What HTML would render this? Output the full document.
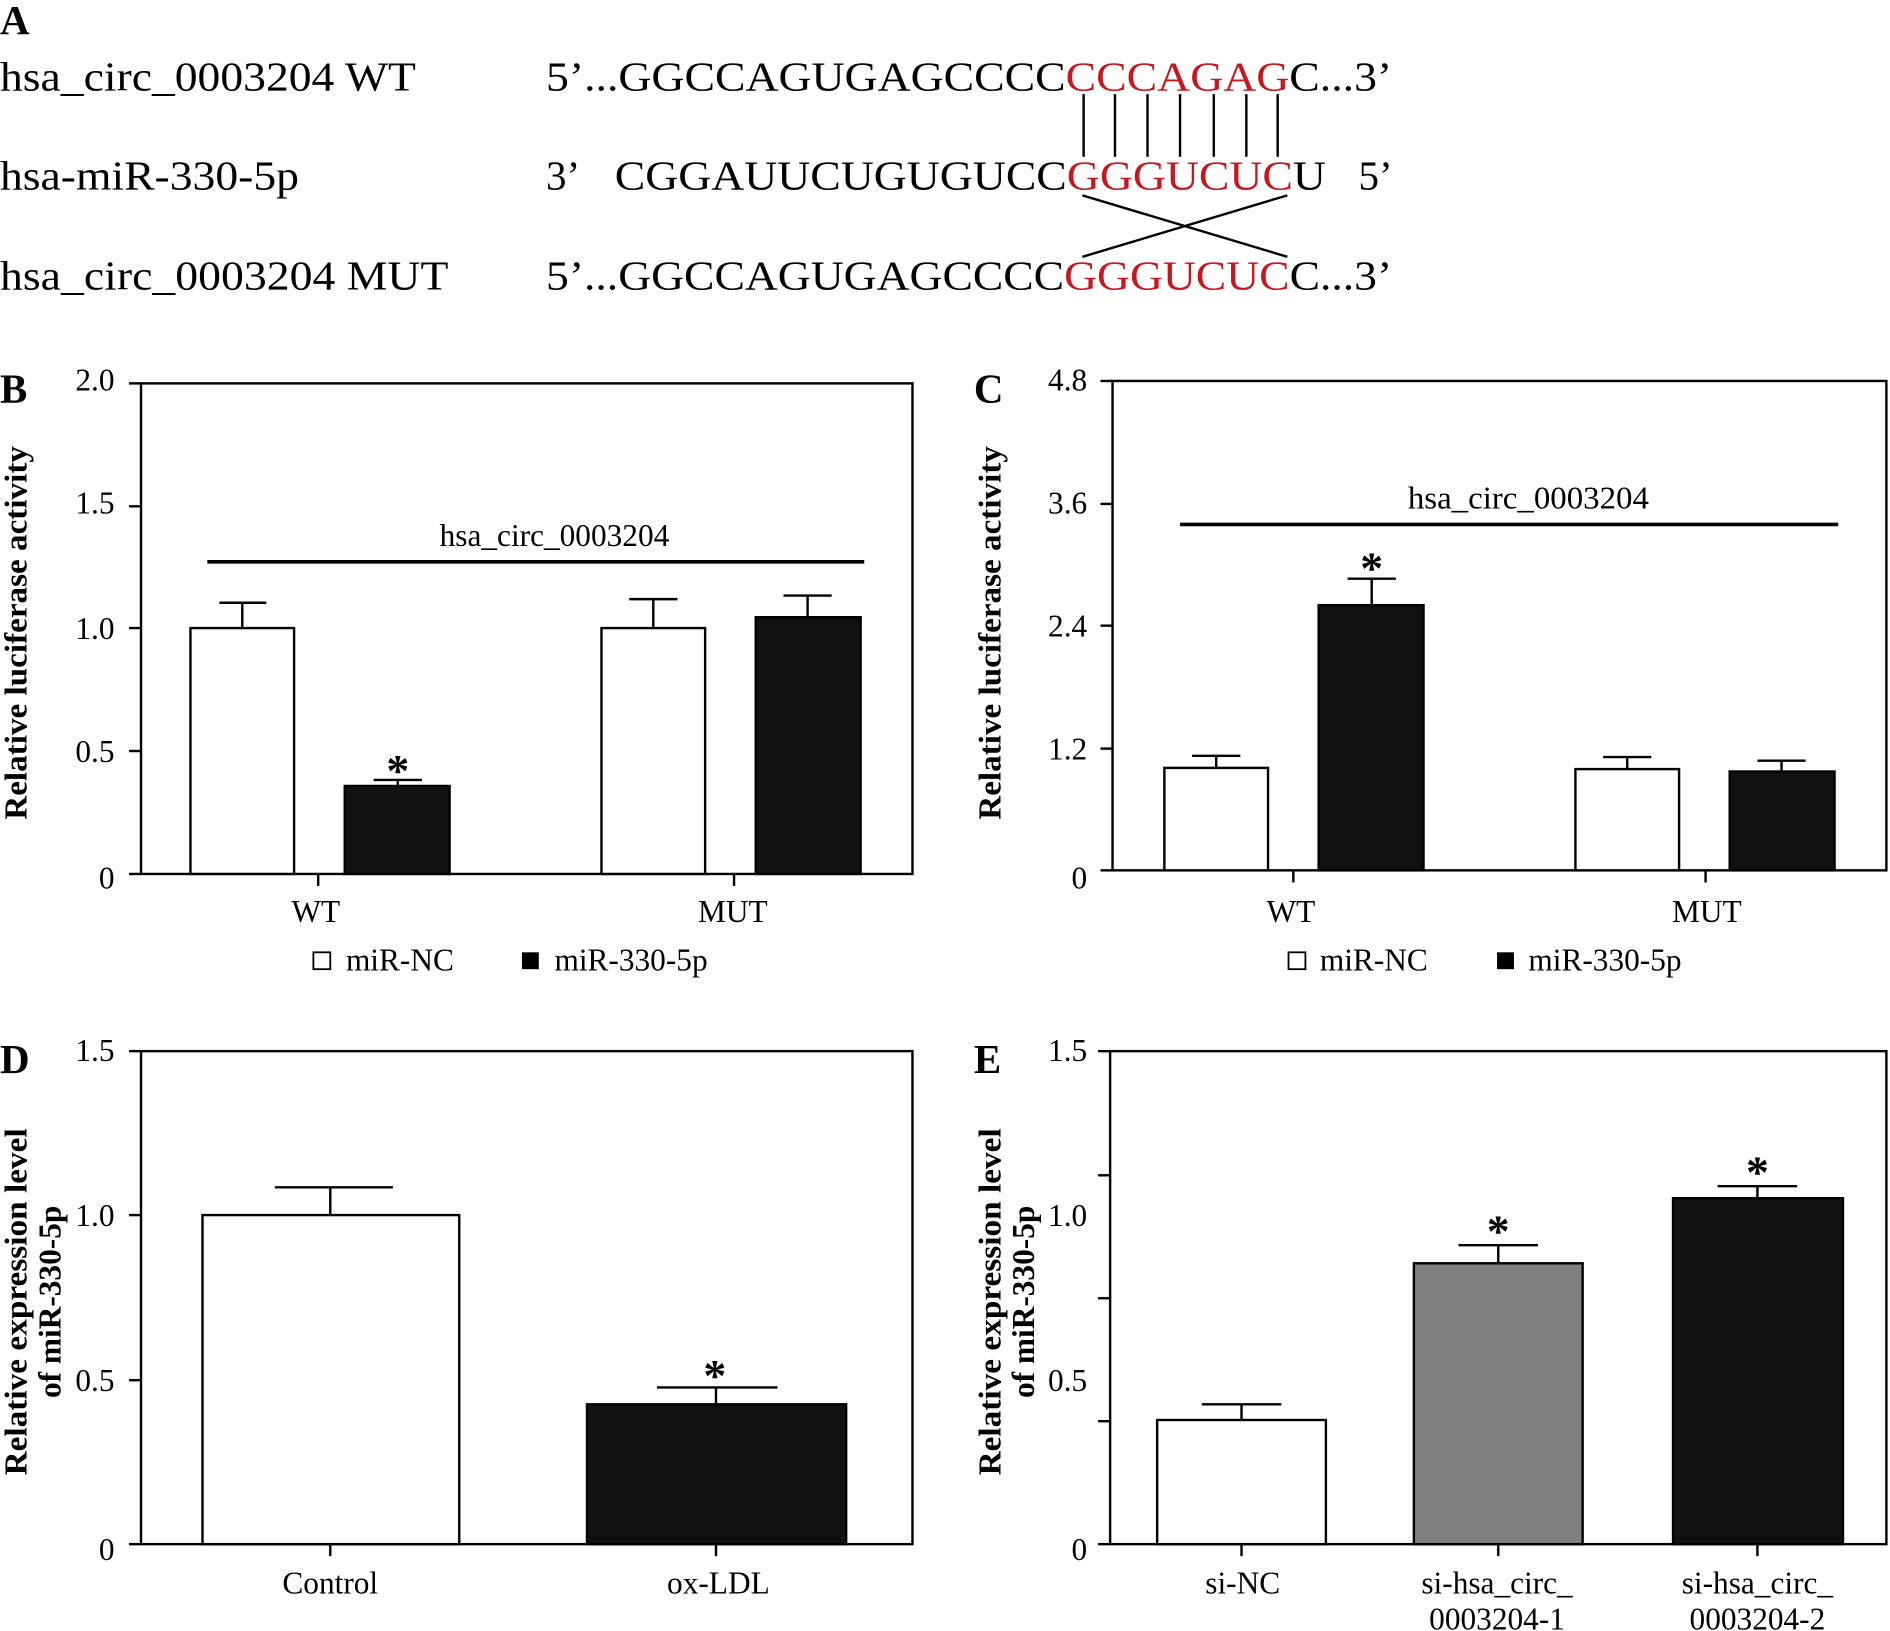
<!DOCTYPE html>
<html><head><style>html,body{margin:0;padding:0;background:#fff}svg{display:block}text{font-family:"Liberation Serif",serif}</style></head><body>
<svg width="1890" height="1631" viewBox="0 0 1568 1353" xmlns="http://www.w3.org/2000/svg">
<g font-size="34">
<text x="0" y="28" font-weight="bold" font-size="34">A</text>
<text x="0" y="75" textLength="345" lengthAdjust="spacingAndGlyphs">hsa_circ_0003204 WT</text>
<text x="0" y="157" textLength="248" lengthAdjust="spacingAndGlyphs">hsa-miR-330-5p</text>
<text x="0" y="240" textLength="372" lengthAdjust="spacingAndGlyphs">hsa_circ_0003204 MUT</text>
<text x="453" y="75" textLength="702" lengthAdjust="spacingAndGlyphs">5’...GGCCAGUGAGCCCC<tspan fill="#c8161d">CCCAGAG</tspan>C...3’</text>
<text x="453" y="157">3’</text>
<text x="510" y="157" textLength="590" lengthAdjust="spacingAndGlyphs">CGGAUUCUGUGUCC<tspan fill="#c8161d">GGGUCUC</tspan>U</text>
<text x="1127" y="157">5’</text>
<text x="453" y="240" textLength="702" lengthAdjust="spacingAndGlyphs">5’...GGCCAGUGAGCCCC<tspan fill="#c8161d">GGGUCUC</tspan>C...3’</text>
</g>
<g stroke="#000" stroke-width="2">
<line x1="899" y1="78" x2="899" y2="130"/><line x1="925" y1="78" x2="925" y2="130"/><line x1="952" y1="78" x2="952" y2="130"/><line x1="979" y1="78" x2="979" y2="130"/><line x1="1007" y1="78" x2="1007" y2="130"/><line x1="1034" y1="78" x2="1034" y2="130"/><line x1="1060" y1="78" x2="1060" y2="130"/>
<line x1="898" y1="162" x2="1068" y2="213"/><line x1="1068" y1="162" x2="898" y2="213"/>
</g>

<!-- Panel B -->
<g font-size="26">
<text x="0" y="334" font-weight="bold" font-size="34">B</text>
<rect x="117" y="318" width="640" height="407" fill="none" stroke="#000" stroke-width="2"/>
<g stroke="#000" stroke-width="2"><line x1="107" y1="318" x2="117" y2="318"/><line x1="107" y1="420" x2="117" y2="420"/><line x1="107" y1="521" x2="117" y2="521"/><line x1="107" y1="623" x2="117" y2="623"/><line x1="107" y1="725" x2="117" y2="725"/><line x1="264" y1="725" x2="264" y2="735"/><line x1="609" y1="725" x2="609" y2="735"/></g>
<g text-anchor="end"><text x="95" y="324">2.0</text><text x="95" y="426">1.5</text><text x="95" y="530">1.0</text><text x="95" y="632">0.5</text><text x="95" y="737">0</text></g>
<text transform="translate(22,525) rotate(-90)" text-anchor="middle" font-weight="bold" textLength="310" lengthAdjust="spacingAndGlyphs">Relative luciferase activity</text>
<g stroke="#000" stroke-width="2">
<line x1="201" y1="521" x2="201" y2="500"/><line x1="182" y1="500" x2="221" y2="500"/>
<rect x="158" y="521" width="86" height="204" fill="#fff"/>
<line x1="330" y1="652" x2="330" y2="647"/><line x1="310" y1="647" x2="350" y2="647"/>
<rect x="286" y="652" width="87" height="73" fill="#111"/>
<line x1="542" y1="521" x2="542" y2="497"/><line x1="522" y1="497" x2="562" y2="497"/>
<rect x="499" y="521" width="86" height="204" fill="#fff"/>
<line x1="670" y1="512" x2="670" y2="494"/><line x1="650" y1="494" x2="690" y2="494"/>
<rect x="627" y="512" width="87" height="213" fill="#111"/>
<line x1="172" y1="466" x2="717" y2="466" stroke-width="3"/>
</g>
<text x="460" y="453" text-anchor="middle">hsa_circ_0003204</text>
<text x="330" y="652" text-anchor="middle" font-size="38" font-weight="bold">*</text>
<text x="262" y="765" text-anchor="middle">WT</text><text x="608" y="765" text-anchor="middle">MUT</text>
<rect x="260" y="790" width="14" height="14" fill="#fff" stroke="#000" stroke-width="1.5"/><text x="287" y="805">miR-NC</text>
<rect x="433" y="790" width="14" height="14" fill="#000"/><text x="460" y="805">miR-330-5p</text>
</g>

<!-- Panel C -->
<g font-size="26">
<text x="808" y="334" font-weight="bold" font-size="34">C</text>
<rect x="923" y="316" width="642" height="406" fill="none" stroke="#000" stroke-width="2"/>
<g stroke="#000" stroke-width="2"><line x1="913" y1="316" x2="923" y2="316"/><line x1="913" y1="418" x2="923" y2="418"/><line x1="913" y1="519" x2="923" y2="519"/><line x1="913" y1="621" x2="923" y2="621"/><line x1="913" y1="722" x2="923" y2="722"/><line x1="1073" y1="722" x2="1073" y2="732"/><line x1="1415" y1="722" x2="1415" y2="732"/></g>
<g text-anchor="end"><text x="902" y="324">4.8</text><text x="902" y="426">3.6</text><text x="902" y="528">2.4</text><text x="902" y="630">1.2</text><text x="902" y="737">0</text></g>
<text transform="translate(830,525) rotate(-90)" text-anchor="middle" font-weight="bold" textLength="310" lengthAdjust="spacingAndGlyphs">Relative luciferase activity</text>
<g stroke="#000" stroke-width="2">
<line x1="1009" y1="637" x2="1009" y2="627"/><line x1="989" y1="627" x2="1029" y2="627"/>
<rect x="966" y="637" width="86" height="85" fill="#fff"/>
<line x1="1138" y1="502" x2="1138" y2="480"/><line x1="1118" y1="480" x2="1158" y2="480"/>
<rect x="1094" y="502" width="87" height="220" fill="#111"/>
<line x1="1350" y1="638" x2="1350" y2="628"/><line x1="1330" y1="628" x2="1370" y2="628"/>
<rect x="1307" y="638" width="86" height="84" fill="#fff"/>
<line x1="1478" y1="640" x2="1478" y2="631"/><line x1="1458" y1="631" x2="1498" y2="631"/>
<rect x="1435" y="640" width="87" height="82" fill="#111"/>
<line x1="979" y1="435" x2="1525" y2="435" stroke-width="3"/>
</g>
<text x="1268" y="422" text-anchor="middle" textLength="200" lengthAdjust="spacingAndGlyphs">hsa_circ_0003204</text>
<text x="1138" y="484" text-anchor="middle" font-size="38" font-weight="bold">*</text>
<text x="1071" y="765" text-anchor="middle">WT</text><text x="1416" y="765" text-anchor="middle">MUT</text>
<rect x="1069" y="790" width="14" height="14" fill="#fff" stroke="#000" stroke-width="1.5"/><text x="1095" y="805">miR-NC</text>
<rect x="1242" y="790" width="14" height="14" fill="#000"/><text x="1268" y="805">miR-330-5p</text>
</g>

<!-- Panel D -->
<g font-size="26">
<text x="0" y="890" font-weight="bold" font-size="34">D</text>
<rect x="117" y="872" width="640" height="409" fill="none" stroke="#000" stroke-width="2"/>
<g stroke="#000" stroke-width="2"><line x1="107" y1="872" x2="117" y2="872"/><line x1="107" y1="1008" x2="117" y2="1008"/><line x1="107" y1="1145" x2="117" y2="1145"/><line x1="107" y1="1281" x2="117" y2="1281"/><line x1="274" y1="1281" x2="274" y2="1291"/><line x1="594" y1="1281" x2="594" y2="1291"/></g>
<g text-anchor="end"><text x="95" y="880">1.5</text><text x="95" y="1017">1.0</text><text x="95" y="1154">0.5</text><text x="95" y="1294">0</text></g>
<g font-weight="bold"><text transform="translate(22,1080) rotate(-90)" text-anchor="middle" textLength="288" lengthAdjust="spacingAndGlyphs">Relative expression level</text><text transform="translate(50,1080) rotate(-90)" text-anchor="middle">of miR-330-5p</text></g>
<g stroke="#000" stroke-width="2">
<line x1="274" y1="1008" x2="274" y2="985"/><line x1="228" y1="985" x2="326" y2="985"/>
<rect x="168" y="1008" width="213" height="273" fill="#fff"/>
<line x1="594" y1="1165" x2="594" y2="1151"/><line x1="545" y1="1151" x2="645" y2="1151"/>
<rect x="487" y="1165" width="215" height="116" fill="#111"/>
</g>
<text x="593" y="1154" text-anchor="middle" font-size="38" font-weight="bold">*</text>
<text x="274" y="1322" text-anchor="middle">Control</text><text x="596" y="1322" text-anchor="middle">ox-LDL</text>
</g>

<!-- Panel E -->
<g font-size="26">
<text x="808" y="890" font-weight="bold" font-size="34">E</text>
<rect x="921" y="872" width="644" height="409" fill="none" stroke="#000" stroke-width="2"/>
<g stroke="#000" stroke-width="2"><line x1="911" y1="872" x2="921" y2="872"/><line x1="911" y1="975" x2="921" y2="975"/><line x1="911" y1="1077" x2="921" y2="1077"/><line x1="911" y1="1179" x2="921" y2="1179"/><line x1="911" y1="1281" x2="921" y2="1281"/><line x1="1030" y1="1281" x2="1030" y2="1291"/><line x1="1243" y1="1281" x2="1243" y2="1291"/><line x1="1458" y1="1281" x2="1458" y2="1291"/></g>
<g text-anchor="end"><text x="902" y="880">1.5</text><text x="902" y="1017">1.0</text><text x="902" y="1154">0.5</text><text x="902" y="1294">0</text></g>
<g font-weight="bold"><text transform="translate(830,1080) rotate(-90)" text-anchor="middle" textLength="288" lengthAdjust="spacingAndGlyphs">Relative expression level</text><text transform="translate(858,1080) rotate(-90)" text-anchor="middle">of miR-330-5p</text></g>
<g stroke="#000" stroke-width="2">
<line x1="1030" y1="1178" x2="1030" y2="1165"/><line x1="997" y1="1165" x2="1063" y2="1165"/>
<rect x="960" y="1178" width="140" height="103" fill="#fff"/>
<line x1="1243" y1="1048" x2="1243" y2="1033"/><line x1="1210" y1="1033" x2="1276" y2="1033"/>
<rect x="1173" y="1048" width="140" height="233" fill="#808080"/>
<line x1="1458" y1="994" x2="1458" y2="984"/><line x1="1425" y1="984" x2="1491" y2="984"/>
<rect x="1388" y="994" width="141" height="287" fill="#111"/>
</g>
<text x="1243" y="1034" text-anchor="middle" font-size="38" font-weight="bold">*</text>
<text x="1458" y="985" text-anchor="middle" font-size="38" font-weight="bold">*</text>
<text x="1031" y="1322" text-anchor="middle">si-NC</text>
<text x="1242" y="1322" text-anchor="middle">si-hsa_circ_</text><text x="1242" y="1352" text-anchor="middle">0003204-1</text>
<text x="1458" y="1322" text-anchor="middle">si-hsa_circ_</text><text x="1458" y="1352" text-anchor="middle">0003204-2</text>
</g>
</svg>
</body></html>
